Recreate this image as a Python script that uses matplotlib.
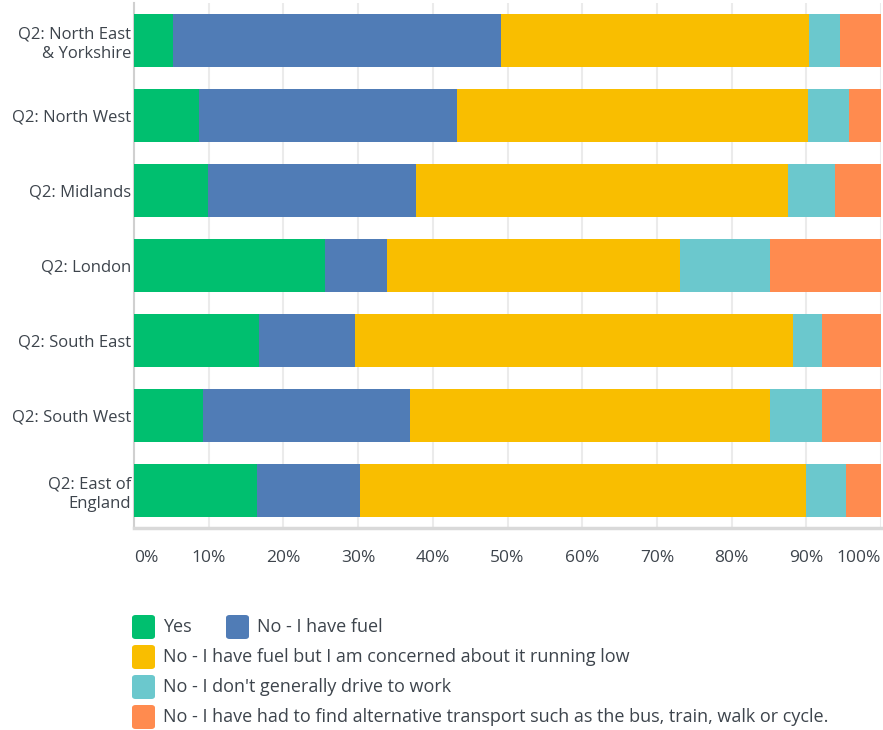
import numpy as np
import matplotlib.pyplot as plt
from matplotlib.patches import FancyBboxPatch

# datos (porcentajes)
regiones = ["Q2: North East\n& Yorkshire", "Q2: North West", "Q2: Midlands",
            "Q2: London", "Q2: South East", "Q2: South West",
            "Q2: East of\nEngland"]
si = [5.2, 8.7, 9.9, 25.6, 16.8, 9.2, 16.5]
no_combustible = [43.9, 34.5, 27.9, 8.3, 12.8, 27.7, 13.7]
preocupado = [41.2, 47.0, 49.7, 39.2, 58.6, 48.3, 59.7]
no_conduce = [4.2, 5.5, 6.3, 12.1, 3.9, 6.9, 5.4]
alternativo = [5.5, 4.3, 6.2, 14.8, 7.9, 7.9, 4.7]

series = [si, no_combustible, preocupado, no_conduce, alternativo]
etiquetas = ["Yes", "No - I have fuel",
             "No - I have fuel but I am concerned about it running low",
             "No - I don't generally drive to work",
             "No - I have had to find alternative transport such as the bus, train, walk or cycle."]
colores = ["#00bf6f", "#507cb6", "#f9be00", "#6bc8cd", "#ff8b4f"]
ticks_x = [0, 10, 20, 30, 40, 50, 60, 70, 80, 90, 100]

TEXTO = "#3d444c"
plt.rcParams['font.family'] = ['Open Sans', 'DejaVu Sans']

fig = plt.figure(figsize=(8.83, 7.3), dpi=100)
ax = fig.add_axes([134 / 883, 1 - 528 / 730, 747 / 883, 525 / 730])

y = np.arange(len(regiones))
izq = np.zeros(len(regiones))
for valores, color in zip(series, colores):
    ax.barh(y, valores, left=izq, height=0.707, color=color, zorder=3)
    izq += np.array(valores)

ax.set_xlim(0, 100)
ax.set_ylim(len(regiones) - 0.5, -0.5)
ax.set_yticks(y)
ax.set_yticklabels(regiones, fontsize=12, color=TEXTO, linespacing=1.3)
ax.set_xticks(ticks_x)
ax.set_xticklabels([f"{t}%" for t in ticks_x], fontsize=12.5, color=TEXTO)
for lbl in ax.get_xticklabels():
    lbl.set_ha('center')
ax.get_xticklabels()[0].set_ha('left')
ax.get_xticklabels()[-1].set_ha('right')
ax.tick_params(axis='both', length=0)
ax.tick_params(axis='x', pad=16)
ax.tick_params(axis='y', pad=2)

ax.grid(axis='x', color='#ebebeb', linewidth=1.5, zorder=0)
for lado in ['top', 'right']:
    ax.spines[lado].set_visible(False)
ax.spines['left'].set_color('#d0d0d0')
ax.spines['left'].set_linewidth(1.5)
ax.spines['bottom'].set_color('#d9d9d9')
ax.spines['bottom'].set_linewidth(2.5)

# leyenda manual
W, H = 883, 730
posiciones = [(132, 627), (226, 627), (132, 657), (132, 687), (132, 717)]
for (px, py), etq, color in zip(posiciones, etiquetas, colores):
    caja = FancyBboxPatch((px / W, 1 - (py + 12) / H), 23 / W, 24 / H,
                          boxstyle="round,pad=0,rounding_size=0.004",
                          transform=fig.transFigure, facecolor=color,
                          edgecolor='none')
    fig.patches.append(caja)
    fig.text((px + 31) / W, 1 - py / H, etq, fontsize=13, color=TEXTO,
             va='center', ha='left')

fig.savefig("out.png", dpi=100)
